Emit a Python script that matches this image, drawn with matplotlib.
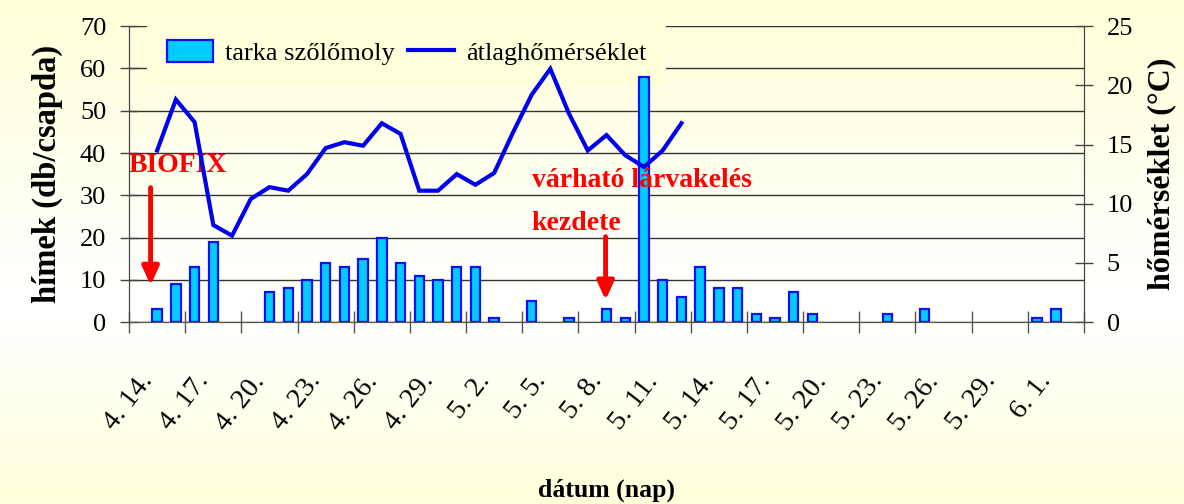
import matplotlib
matplotlib.use("Agg")
import matplotlib.pyplot as plt
import matplotlib.patches as mpatches
import matplotlib.lines as mlines
import matplotlib.transforms as mtransforms
import numpy as np
from matplotlib.colors import LinearSegmentedColormap

# ── Data ──────────────────────────────────────────────────────────────────────
# one category per day, 4.14. .. 6.3.
DAYS = ([f"4. {d}." for d in range(14, 31)] +
        [f"5. {d}." for d in range(1, 32)] +
        [f"6. {d}." for d in range(1, 4)])

# trap catches (db/csapda), None = no value that day
MOTHS = [None, 3, 9, 13, 19, None, None, 7, 8, 10,
         14, 13, 15, 20, 14, 11, 10, 13, 13, 1,
         None, 5, None, 1, None, 3, 1, 58, 10, 6,
         13, 8, 8, 2, 1, 7, 2, None, None, None,
         2, None, 3, None, None, None, None, None, 1, 3,
         None]

# daily mean temperature (°C), from 4.15. to 5.12.
TEMP = [None, 14.5, 18.8, 16.9, 8.2, 7.3, 10.4, 11.4, 11.1, 12.5,
        14.7, 15.2, 14.9, 16.8, 15.9, 11.1, 11.1, 12.5, 11.6, 12.6,
        16.0, 19.2, 21.4, 17.6, 14.5, 15.8, 14.1, 13.1, 14.5, 16.8]

LABEL_STEP = 3
BIOFIX_DAY = "4. 15."
LARVA_DAY = "5. 9."

# ── Figure ────────────────────────────────────────────────────────────────────
plt.rcParams["font.family"] = ["Liberation Serif", "DejaVu Serif"]

fig = plt.figure(figsize=(11.84, 5.04), dpi=100)

# background: light yellow at top and bottom, almost white in the middle
bg = fig.add_axes([0, 0, 1, 1], zorder=-10)
cmap = LinearSegmentedColormap.from_list(
    "bg", [(0.0, "#FFFFD8"), (0.5, "#FFFFFA"), (0.62, "#FFFFFF"), (1.0, "#FFFFDC")])
grad = np.linspace(0, 1, 256).reshape(-1, 1)
bg.imshow(grad, aspect="auto", cmap=cmap, extent=[0, 1, 0, 1], origin="upper")
bg.axis("off")

ax = fig.add_axes([0.109, 0.361, 0.8065, 0.587])
ax.patch.set_alpha(0)
ax2 = ax.twinx()

x = np.arange(len(DAYS))
m_x = [i for i, v in enumerate(MOTHS) if v is not None]
m_y = [v for v in MOTHS if v is not None]
ax.bar(m_x, m_y, width=0.5, color="#00CCFF", edgecolor="#1010F0",
       linewidth=1.6, zorder=3)

t_x = [i for i, v in enumerate(TEMP) if v is not None]
t_y = [v for v in TEMP if v is not None]
ax2.plot(t_x, t_y, color="#0000EE", linewidth=3, solid_joinstyle="miter", zorder=4)

ax.set_xlim(-0.5, len(DAYS) - 0.5)
ax.set_ylim(0, 70)
ax2.set_ylim(0, 25)
ax.set_yticks(range(0, 71, 10))
ax2.set_yticks(range(0, 26, 5))

# tick marks between categories, labels at every 3rd day
ax.set_xticks(np.arange(-0.5, len(DAYS), LABEL_STEP))
ax.set_xticklabels([])
ax.set_xticks(x[::LABEL_STEP], minor=True)
ax.set_xticklabels(DAYS[::LABEL_STEP], minor=True, rotation=52,
                   ha="right", va="top", rotation_mode="anchor", fontsize=20.5)
shift = mtransforms.ScaledTranslation(-10 / 100, 0, fig.dpi_scale_trans)
for lbl in ax.get_xticklabels(minor=True):
    lbl.set_transform(lbl.get_transform() + shift)
ax.tick_params(axis="x", which="major", direction="inout", length=16,
               width=1, color="#555555")
ax.tick_params(axis="x", which="minor", length=0, pad=34)
ax.tick_params(axis="y", direction="inout", length=13, width=1,
               color="#444444", labelsize=19, pad=10)
ax2.tick_params(axis="y", direction="inout", length=13, width=1,
                color="#444444", labelsize=19, pad=10)

for a in (ax, ax2):
    a.spines["top"].set_visible(False)
    a.spines["bottom"].set_color("#555555")
    a.spines["left"].set_color("#444444")
    a.spines["right"].set_color("#444444")

ax.grid(True, axis="y", color="#333333", linewidth=1, zorder=0)
ax.set_axisbelow(True)

ax.set_ylabel("hímek (db/csapda)", fontsize=23.5, fontweight="bold", labelpad=12)
ax2.set_ylabel("hőmérséklet (°C)", fontsize=23, fontweight="bold", labelpad=10)
fig.text(0.512, 0.027, "dátum (nap)", ha="center", va="center",
         fontsize=18.5, fontweight="bold")

# legend (behind the data, above the grid)
h_bar = mpatches.Patch(facecolor="#00CCFF", edgecolor="#1010F0", linewidth=1.6)
h_line = mlines.Line2D([], [], color="#0000EE", linewidth=3)
leg = ax.legend([h_bar, h_line], ["tarka szőlőmoly", "átlaghőmérséklet"],
                ncol=2, loc="upper left", bbox_to_anchor=(0.019, 1.02),
                fontsize=19, frameon=True, facecolor="#FFFFDA",
                edgecolor="none", framealpha=1, fancybox=False,
                handlelength=1.75, handleheight=0.9, handletextpad=0.45,
                columnspacing=0.5, borderpad=0.75, borderaxespad=0)
leg.set_zorder(2.5)

# annotations
arrow = dict(arrowstyle="-|>,head_width=0.5,head_length=1.1",
             color="#FF0000", lw=3.5, shrinkA=0, shrinkB=0)

bi = DAYS.index(BIOFIX_DAY)
ax.text(bi - 1.5, 37, "BIOFIX", color="#FF0000", fontsize=20,
        fontweight="bold", ha="left", va="center", zorder=6)
ax.annotate("", xy=(bi - 0.35, 8.7), xytext=(bi - 0.35, 31.8),
            arrowprops=arrow, zorder=6)

li = DAYS.index(LARVA_DAY)
ax.text(li - 4, 33.5, "várható lárvakelés", color="#FF0000", fontsize=20,
        fontweight="bold", ha="left", va="center", zorder=6)
ax.text(li - 4, 23.3, "kezdete", color="#FF0000", fontsize=20,
        fontweight="bold", ha="left", va="center", zorder=6)
ax.annotate("", xy=(li - 0.05, 5.2), xytext=(li - 0.05, 20.2),
            arrowprops=arrow, zorder=6)

fig.savefig("out.png", dpi=100)
